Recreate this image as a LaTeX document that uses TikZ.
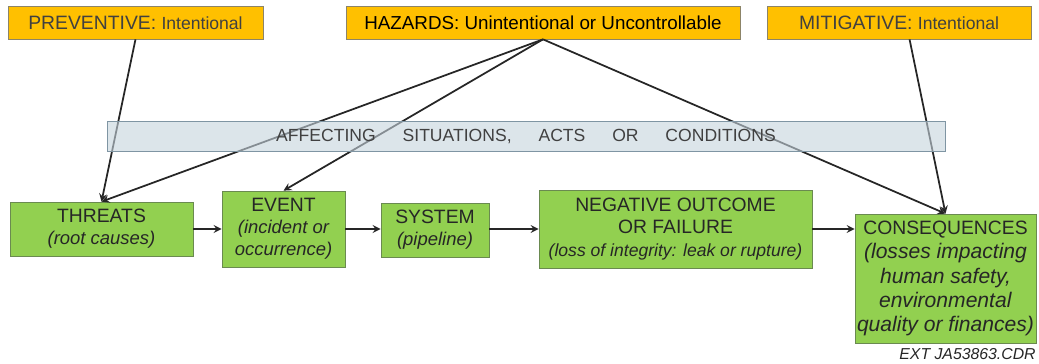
\documentclass[tikz,border=0pt]{standalone}
\usepackage{fontspec}
\setmainfont{Liberation Sans}
\usepackage{tikz}
\usetikzlibrary{arrows, positioning}
\definecolor{hazorange}{HTML}{FFC000}
\definecolor{boxgray}{HTML}{8C8468}
\definecolor{boxgreen}{HTML}{92D050}
\definecolor{greenedge}{HTML}{6A8A50}
\definecolor{bandblue}{HTML}{C5D3DC}
\definecolor{bandedge}{HTML}{7F95A3}
\definecolor{textgray}{HTML}{404040}
\definecolor{textdark}{HTML}{262626}
\definecolor{linedark}{HTML}{262626}
\newcommand{\bandgap}{\hspace{12.5pt}}

\begin{document}
\begin{tikzpicture}[
        topbox/.style={draw=boxgray, fill=hazorange, minimum height=0.66cm, inner sep=1pt, text=textgray, font=\fontsize{11}{13}\selectfont},
        greenbox/.style={draw=greenedge, fill=boxgreen, align=center, inner sep=1pt, text=textdark, font=\fontsize{11}{12.6}\selectfont},
        arrow/.style={line width=1pt,->,>=stealth, draw=linedark}
      ]
        \useasboundingbox (0,0) rectangle (20.78,-7.28);

        % Barrier and hazard boxes
        \node (prev) [topbox, minimum width=5.1cm] at (2.71,-0.45) {PREVENTIVE:~{\fontsize{10}{12}\selectfont Intentional}};
        \node (haz) [topbox, minimum width=7.88cm, text=black, font=\fontsize{10.7}{13}\selectfont] at (10.86,-0.45) {HAZARDS: Unintentional or Uncontrollable};
        \node (mitig) [topbox, minimum width=5.28cm] at (17.98,-0.45) {MITIGATIVE:~{\fontsize{10}{12}\selectfont Intentional}};

        % Chain of boxes
        \node (threats) [greenbox, minimum width=3.66cm, minimum height=1.08cm] at (2.03,-4.58) {THREATS\\{\itshape\fontsize{10.5}{12.6}\selectfont (root causes)}};
        \node (event) [greenbox, minimum width=2.46cm, minimum height=1.52cm] at (5.67,-4.58) {EVENT\\{\itshape\fontsize{10.5}{12.6}\selectfont (incident or}\\{\itshape\fontsize{10.5}{12.6}\selectfont occurrence)}};
        \node (system) [greenbox, minimum width=2.16cm, minimum height=1.08cm] at (8.7,-4.6) {SYSTEM\\{\itshape\fontsize{10.5}{12.6}\selectfont (pipeline)}};
        \node (neg) [greenbox, minimum width=5.46cm, minimum height=1.56cm] at (13.51,-4.58) {NEGATIVE OUTCOME\\OR FAILURE\\{\itshape\fontsize{10}{12.6}\selectfont (loss of integrity: leak or rupture)}};
        \node (cons) [greenbox, minimum width=3.62cm, minimum height=2.58cm, font=\fontsize{12}{13.8}\selectfont] at (18.91,-5.57) {{\fontsize{11}{13.8}\selectfont CONSEQUENCES}\\\textit{(losses impacting}\\\textit{human safety,}\\\textit{environmental}\\\textit{quality or finances)}};

        % Arrows from the top boxes
        \draw [arrow] (prev.south) -- (threats.north);
        \draw [arrow] (haz.south) -- (threats.north);
        \draw [arrow] (haz.south) -- (event.north);
        \draw [arrow] (haz.south) -- (cons.north);
        \draw [arrow] ([xshift=6pt]mitig.south) -- (cons.north);

        % Arrows along the chain
        \draw [arrow] (threats.east) -- (event.west |- threats.east);
        \draw [arrow] (event.east) -- (system.west |- event.east);
        \draw [arrow] (system.east |- event.east) -- (neg.west |- event.east);
        \draw [arrow] (neg.east) -- (cons.west |- neg.east);

        % Band over the arrows
        \node (band) [draw=bandedge, fill=bandblue, fill opacity=0.6, text opacity=1, text=textgray, minimum width=16.76cm, minimum height=0.6cm, inner sep=0pt, font=\fontsize{10}{12}\selectfont] at (10.52,-2.72) {AFFECTING\bandgap{} SITUATIONS,\bandgap{} ACTS\bandgap{} OR\bandgap{} CONDITIONS\hspace{5pt}};

        % Label
        \node (ref) [anchor=east, inner sep=0pt, text=textdark, font=\itshape\fontsize{9}{11}\selectfont] at (20.72,-7.08) {EXT JA53863.CDR};
      \end{tikzpicture}
\end{document}
